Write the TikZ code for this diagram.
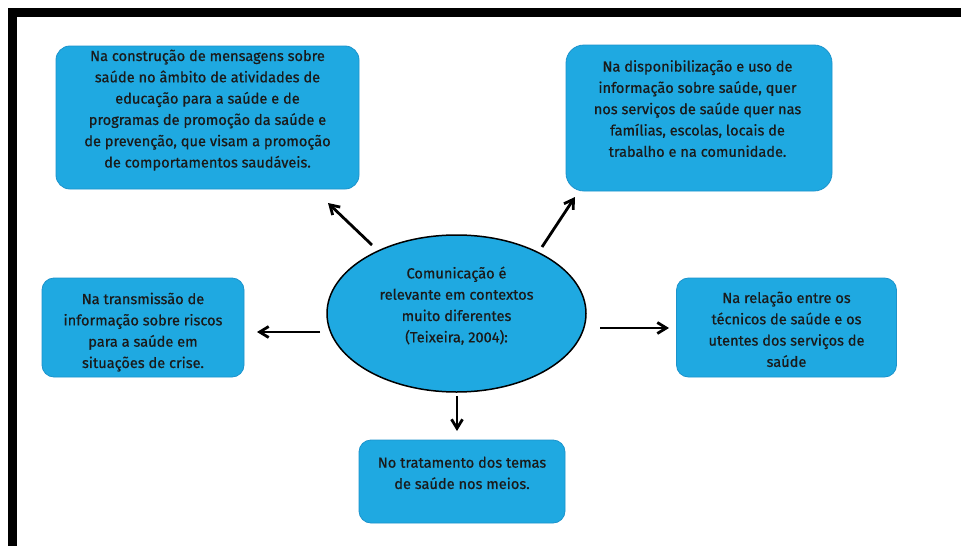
\documentclass[tikz,border=0pt]{standalone}
\usepackage{fontspec}
\setmainfont{Fira Sans}[FakeBold=0.6]
\usetikzlibrary{arrows.meta,shapes.geometric}
\definecolor{boxfill}{HTML}{1FA9E1}
\definecolor{boxline}{HTML}{1B93CC}
\definecolor{txtcol}{HTML}{1A1A1A}
\begin{document}
\begin{tikzpicture}[x=1pt,y=-1pt,
  box/.style={draw=boxline, line width=0.8pt, fill=boxfill, rounded corners=14pt, inner sep=0pt},
  txt/.style={text=txtcol, align=center, font=\fontsize{14.6}{21.3}\selectfont, inner sep=0pt, anchor=north},
  arr/.style={line width=2.8pt, -{Straight Barb[length=9pt,width=11pt]}}]
\useasboundingbox (0,0) rectangle (961,546);
\fill[white] (0,0) rectangle (961,546);
\draw[line width=8.5pt] (12.5,546) -- (12.5,12.3) -- (961,12.3);

% boxes
\node[box, minimum width=303pt, minimum height=143pt] (b1) at (207.5,117.5) {};
\node[box, rounded corners=18pt, minimum width=266pt, minimum height=146pt] (b2) at (699,118) {};
\node[box, rounded corners=12pt, minimum width=202pt, minimum height=99pt] (b3) at (143,327.5) {};
\node[box, rounded corners=12pt, minimum width=220pt, minimum height=99pt] (b4) at (786.5,327.5) {};
\node[box, rounded corners=12pt, minimum width=206pt, minimum height=83pt] (b5) at (462,481.5) {};
\node[ellipse, draw=black, line width=1.5pt, fill=boxfill, minimum width=259pt, minimum height=157pt, inner sep=0pt] (ell) at (456.5,313.5) {};

% texts
\node[txt] (t1) at (207.5,49.5) {Na construção de mensagens sobre\\saúde no âmbito de atividades de\\educação para a saúde e de\\programas de promoção da saúde e\\de prevenção, que visam a promoção\\de comportamentos saudáveis.};
\node[txt] (t2) at (697.5,60) {Na disponibilização e uso de\\informação sobre saúde, quer\\nos serviços de saúde quer nas\\famílias, escolas, locais de\\trabalho e na comunidade.};
\node[txt] (t3) at (143,292.5) {Na transmissão de\\informação sobre riscos\\para a saúde em\\situações de crise.};
\node[txt] (t4) at (786.5,291.5) {Na relação entre os\\técnicos de saúde e os\\utentes dos serviços de\\saúde};
\node[txt] (t5) at (462,456.5) {No tratamento dos temas\\de saúde nos meios.};
\node[txt] (t6) at (456.5,266.5) {Comunicação é\\relevante em contextos\\muito diferentes\\(Teixeira, 2004):};

% arrow end points
\coordinate (s1) at (372,245); \coordinate (e1) at (328,203);
\coordinate (s2) at (542,247); \coordinate (e2) at (575,197);
\coordinate (s3) at (320,332); \coordinate (e3) at (257,332);
\coordinate (s4) at (600,328); \coordinate (e4) at (669,328);
\coordinate (s5) at (457,396); \coordinate (e5) at (457,431);
\draw[arr] (s1) -- (e1);
\draw[arr] (s2) -- (e2);
\draw[arr] (s3) -- (e3);
\draw[arr] (s4) -- (e4);
\draw[arr] (s5) -- (e5);
\end{tikzpicture}
\end{document}
